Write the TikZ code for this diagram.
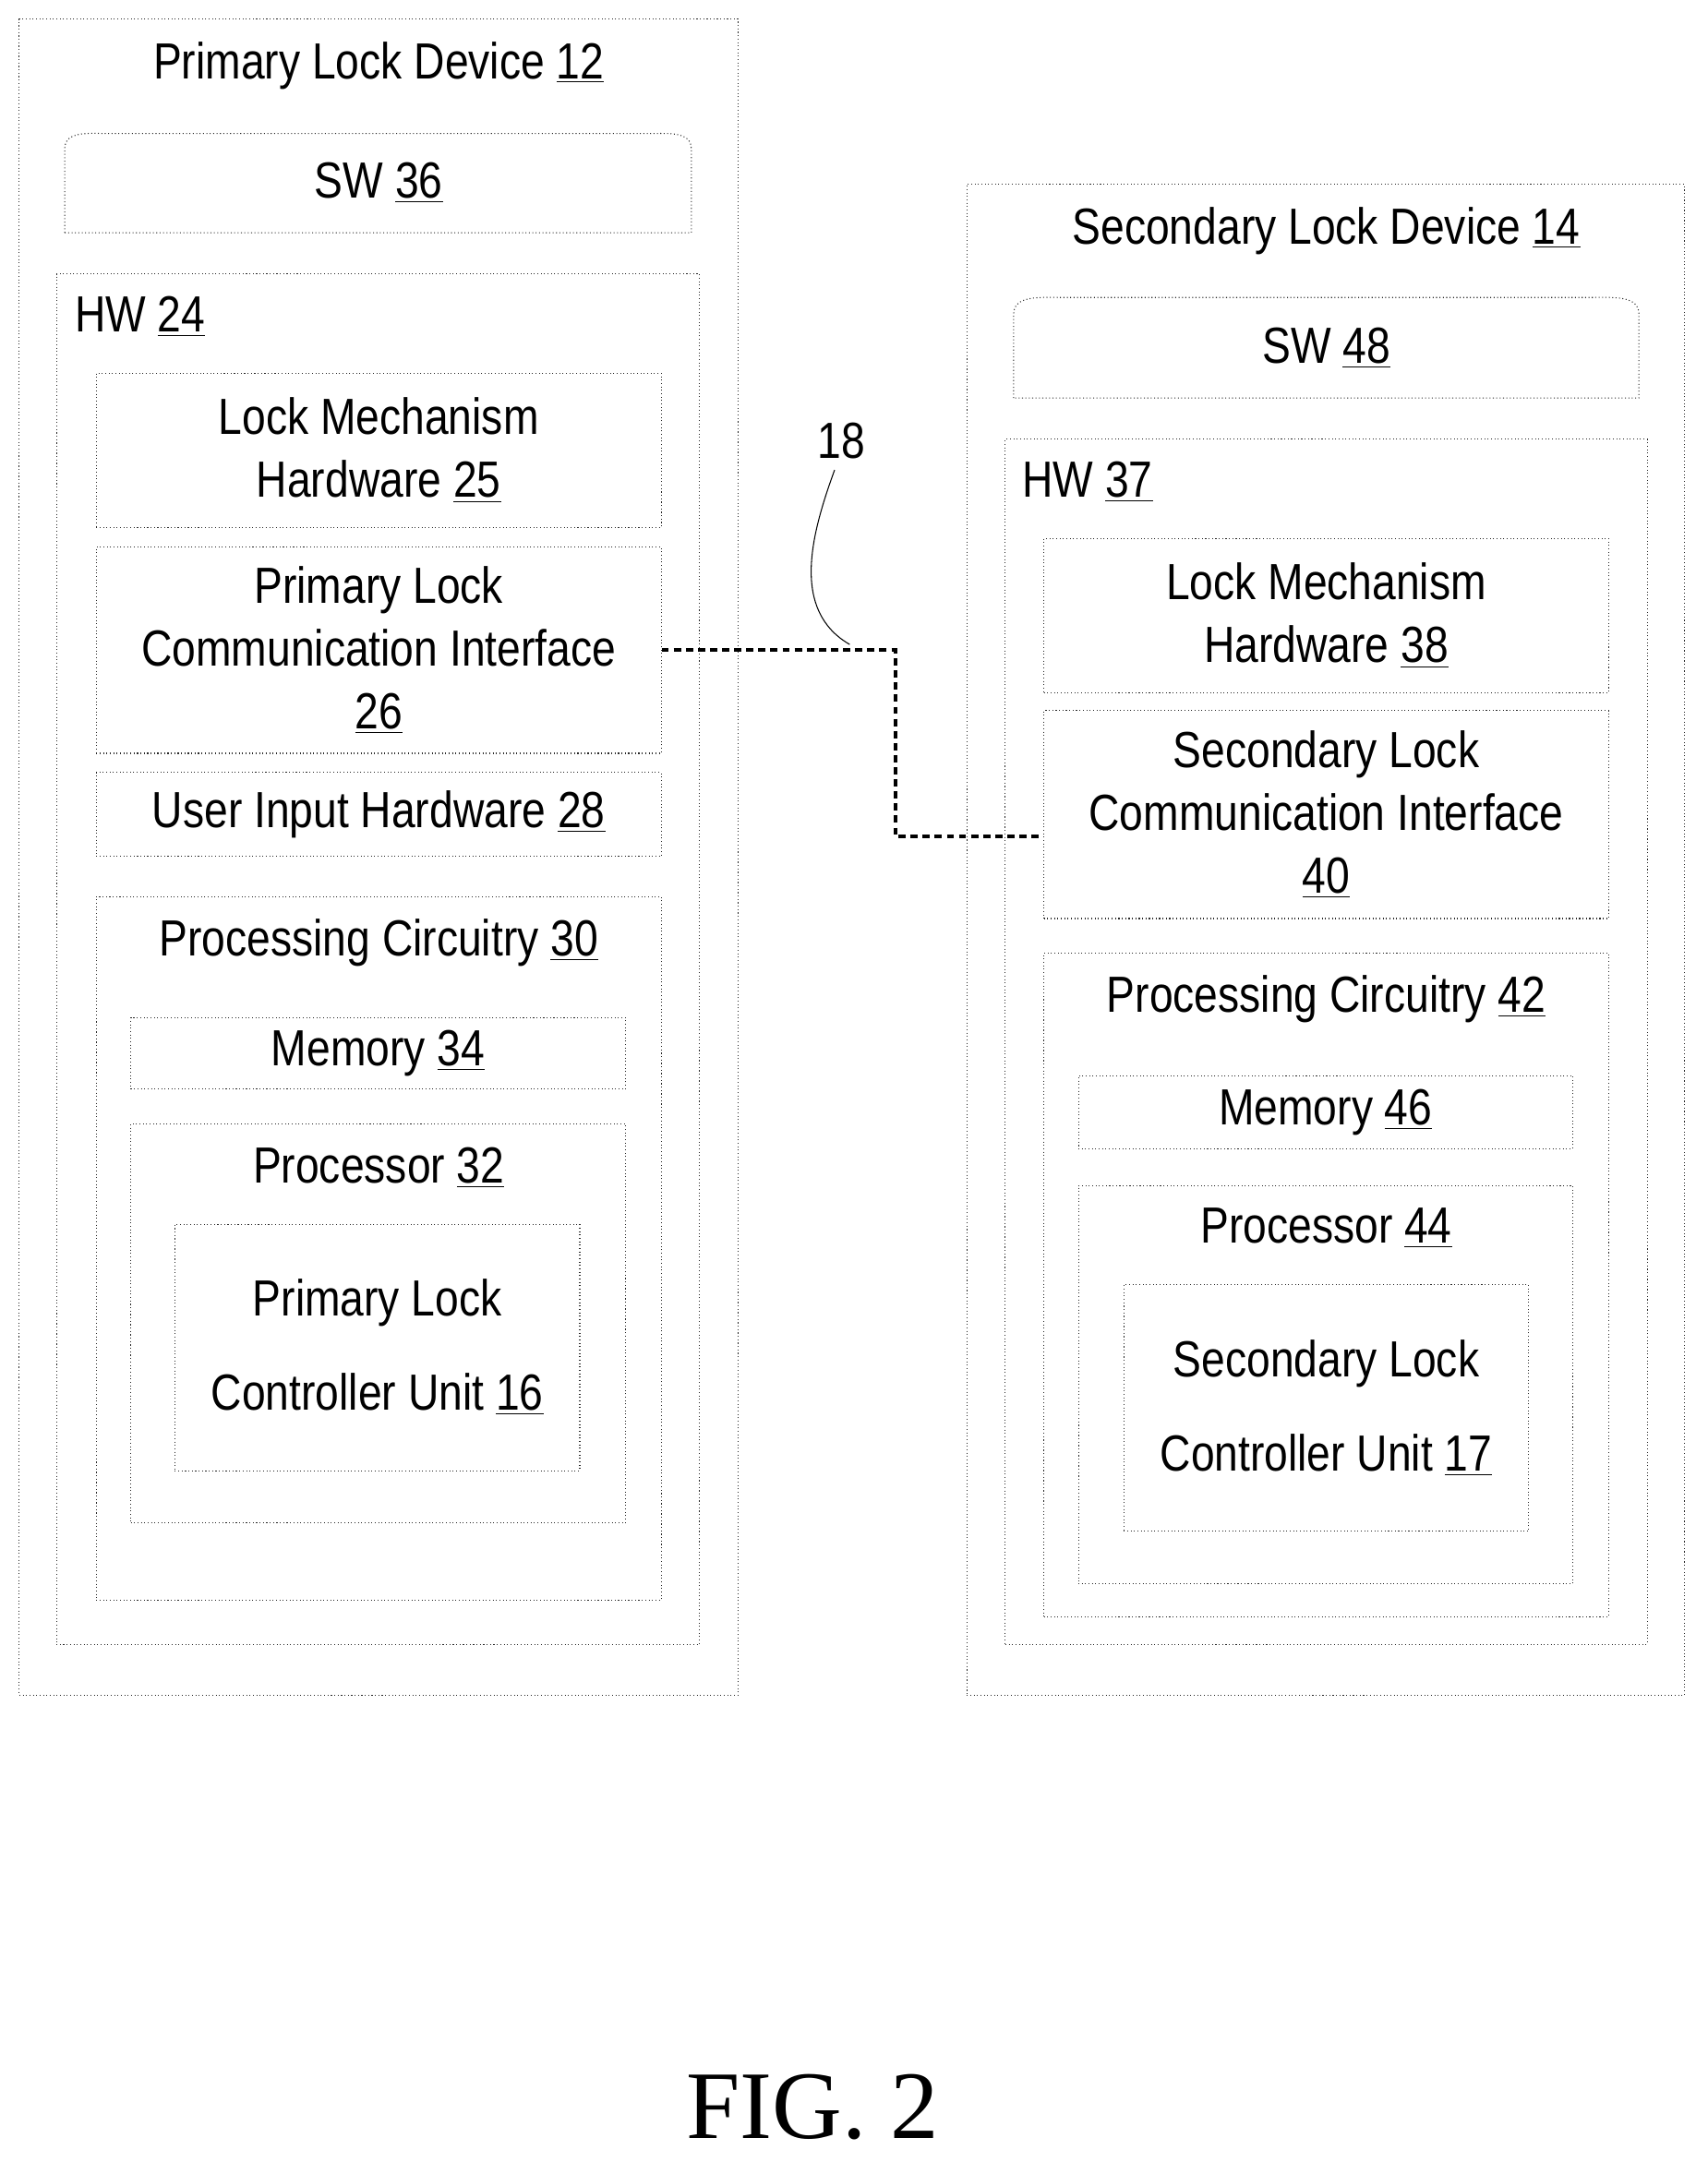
\documentclass[tikz,border=0pt]{standalone}
\usepackage{fontspec}
\setmainfont{Liberation Sans}[FakeStretch=0.84]
\newfontfamily\figfont{Liberation Serif}
\usetikzlibrary{fit,positioning}
\newcommand{\refnum}[1]{\underline{#1}}

\begin{document}
\begin{tikzpicture}[
    x=0.02cm, y=-0.02cm,
    font=\fontsize{21}{26}\selectfont,
    box/.style={draw=black!85, densely dotted, inner sep=0pt},
    txt/.style={align=center, inner sep=0pt},
    title/.style={anchor=north, inner sep=0pt},
    link/.style={line width=1.6pt, densely dashed}
]
\useasboundingbox (0,0) rectangle (1240,1570);

% Primary lock device
\node[box, fit={(14,14) (536,1231)}] (dev12) {};
\node[title] at (275,30) {Primary Lock Device \refnum{12}};
\draw[box] (47,169) -- (47,108) to[out=90,in=180] (80,97) -- (470,97) to[out=0,in=90] (502,108) -- (502,169) -- cycle;
\node[txt] at (275,133) (sw36) {SW \refnum{36}};
\node[box, fit={(41,199) (508,1194)}] (hw24) {};
\node[anchor=north west, inner sep=0pt] at (54,215) {HW \refnum{24}};
\node[box, fit={(70,271) (480,383)}] (lock25) {};
\node[txt] at (lock25) {Lock Mechanism\\Hardware \refnum{25}};
\node[box, fit={(70,397) (480,547)}] (comm26) {};
\node[txt] at (comm26) {Primary Lock\\Communication Interface\\\refnum{26}};
\node[box, fit={(70,561) (480,622)}] (input28) {};
\node[txt] at (input28) {User Input Hardware \refnum{28}};
\node[box, fit={(70,651) (480,1162)}] (proc30) {};
\node[title] at (275,667) {Processing Circuitry \refnum{30}};
\node[box, fit={(95,739) (454,791)}] (mem34) {};
\node[txt] at (mem34) {Memory \refnum{34}};
\node[box, fit={(95,816) (454,1106)}] (cpu32) {};
\node[title] at (275,833) {Processor \refnum{32}};
\node[box, fit={(127,889) (421,1068)}] (ctrl16) {};
\node[txt] at (ctrl16) {Primary Lock\\[0.45cm]Controller Unit \refnum{16}};

% Secondary lock device
\node[box, fit={(702,134) (1223,1231)}] (dev14) {};
\node[title] at (963,150) {Secondary Lock Device \refnum{14}};
\draw[box] (736,289) -- (736,228) to[out=90,in=180] (768,216) -- (1158,216) to[out=0,in=90] (1190,228) -- (1190,289) -- cycle;
\node[txt] at (963,253) (sw48) {SW \refnum{48}};
\node[box, fit={(730,319) (1196,1194)}] (hw37) {};
\node[anchor=north west, inner sep=0pt] at (742,335) {HW \refnum{37}};
\node[box, fit={(758,391) (1168,503)}] (lock38) {};
\node[txt] at (lock38) {Lock Mechanism\\Hardware \refnum{38}};
\node[box, fit={(758,516) (1168,667)}] (comm40) {};
\node[txt] at (comm40) {Secondary Lock\\Communication Interface\\\refnum{40}};
\node[box, fit={(758,692) (1168,1174)}] (proc42) {};
\node[title] at (963,708) {Processing Circuitry \refnum{42}};
\node[box, fit={(783,781) (1142,834)}] (mem46) {};
\node[txt] at (mem46) {Memory \refnum{46}};
\node[box, fit={(783,861) (1142,1150)}] (cpu44) {};
\node[title] at (963,877) {Processor \refnum{44}};
\node[box, fit={(816,933) (1110,1112)}] (ctrl17) {};
\node[txt] at (ctrl17) {Secondary Lock\\[0.45cm]Controller Unit \refnum{17}};

% Link 18
\coordinate (bend) at (650,472);
\draw[link] (comm26.east) -- (bend) |- ([yshift=-0.32cm]comm40.west);
\node (lbl18) at (611,320) {18};
\draw[thin] (lbl18.south) ++(-5,2) to[out=250,in=150] (617,468);

\node (fig) at (590,1530) {\figfont\fontsize{40}{44}\selectfont FIG. 2};
\end{tikzpicture}
\end{document}
